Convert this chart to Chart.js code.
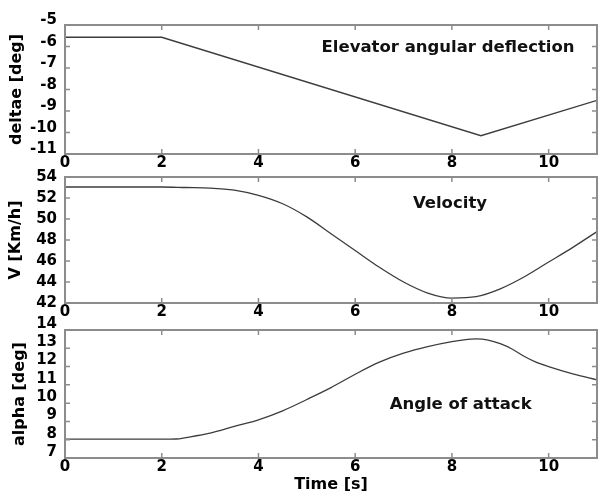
<!DOCTYPE html>
<html>
<head>
<meta charset="utf-8">
<script src="https://cdn.jsdelivr.net/npm/chart.js@4/dist/chart.umd.min.js"></script>
<style>
html,body{margin:0;padding:0;background:#fff;}
#wrap{position:relative;width:600px;height:496px;overflow:hidden;}
.pane{position:absolute;left:0;width:600px;}
</style>
</head>
<body>
<div id="wrap">
  <div class="pane" style="top:0;height:172px"><canvas id="c1"></canvas></div>
  <div class="pane" style="top:160px;height:162px"><canvas id="c2"></canvas></div>
  <div class="pane" style="top:310px;height:186px"><canvas id="c3"></canvas></div>
</div>
<script>
// values
const deltaeTime = [0, 2, 8.6, 11];
const deltaeDeg  = [-5.57, -5.57, -10.15, -8.5];

const velTime = [0, 1, 2, 2.5, 3, 3.5, 4, 4.5, 5, 5.5, 6, 6.5, 7, 7.5, 8, 8.5, 9, 9.5, 10, 10.5, 11];
const velKmh  = [53.05, 53.05, 53.05, 53.0, 52.95, 52.75, 52.25, 51.45, 50.2, 48.6, 47.0, 45.4, 44.0, 42.95, 42.47, 42.6, 43.35, 44.5, 45.9, 47.3, 48.8];

const alphaTime = [0, 1, 2, 2.3, 2.5, 3, 3.5, 4, 4.5, 5, 5.5, 6, 6.5, 7, 7.5, 8, 8.25, 8.5, 8.75, 9, 9.25, 9.5, 9.75, 10, 10.5, 11];
const alphaDeg  = [8.03, 8.03, 8.03, 8.04, 8.12, 8.36, 8.73, 9.09, 9.58, 10.2, 10.85, 11.58, 12.24, 12.73, 13.09, 13.36, 13.46, 13.51, 13.45, 13.25, 12.95, 12.55, 12.23, 12.0, 11.6, 11.27];

const timeTicks = {min: 0, max: 11, step: 2};

Chart.defaults.font.family = '"DejaVu Sans", sans-serif';
Chart.defaults.font.weight = 'bold';
Chart.defaults.font.size = 15;
Chart.defaults.color = '#000';

const pts = (xs, ys) => xs.map((x, i) => ({x, y: ys[i]}));

// box frame with inward ticks on all four sides + panel caption
const framePlugin = {
  id: 'frame',
  afterDraw(chart, args, opts){
    const {ctx, chartArea: a, scales: {x, y}} = chart;
    ctx.save();
    ctx.strokeStyle = '#8c8c8c';
    ctx.lineWidth = 2;
    ctx.strokeRect(a.left, a.top, a.right - a.left, a.bottom - a.top);
    ctx.lineWidth = 1.5;
    ctx.beginPath();
    x.ticks.forEach(t => {
      const px = x.getPixelForValue(t.value);
      ctx.moveTo(px, a.top); ctx.lineTo(px, a.top + 5);
      ctx.moveTo(px, a.bottom); ctx.lineTo(px, a.bottom - 5);
    });
    y.ticks.forEach(t => {
      const py = y.getPixelForValue(t.value);
      ctx.moveTo(a.left, py); ctx.lineTo(a.left + 5, py);
      ctx.moveTo(a.right, py); ctx.lineTo(a.right - 5, py);
    });
    ctx.stroke();
    ctx.font = 'bold 16.5px "DejaVu Sans"';
    ctx.fillStyle = '#111';
    ctx.textAlign = 'center';
    ctx.textBaseline = 'middle';
    ctx.fillText(opts.text, x.getPixelForValue(opts.at[0]), y.getPixelForValue(opts.at[1]));
    ctx.restore();
  }
};

function makePanel(id, data, cfg){
  return new Chart(document.getElementById(id), {
    type: 'line',
    data: {datasets: [{
      data,
      borderColor: '#3c3c3c',
      borderWidth: 1.3,
      pointRadius: 0,
      fill: false,
      cubicInterpolationMode: cfg.smooth ? 'monotone' : 'default',
      tension: 0
    }]},
    options: {
      responsive: true,
      maintainAspectRatio: false,
      animation: false,
      layout: {padding: {top: cfg.padTop, right: 3, left: 0, bottom: 0}},
      plugins: {legend: {display: false}, tooltip: {enabled: false}, frame: cfg.caption},
      scales: {
        x: {
          type: 'linear', min: timeTicks.min, max: timeTicks.max,
          grid: {display: false, drawTicks: false}, border: {display: false},
          ticks: {stepSize: timeTicks.step, includeBounds: false, padding: 0, maxRotation: 0, autoSkip: false},
          title: cfg.xTitle ? {display: true, text: cfg.xTitle, font: {size: 16}, padding: {top: 0, bottom: 2}} : {display: false},
          afterFit: s => { s.height = cfg.xHeight; }
        },
        y: {
          min: cfg.yMin, max: cfg.yMax,
          grid: {display: false, drawTicks: false}, border: {display: false},
          ticks: {stepSize: cfg.yStep, padding: 8, labelOffset: cfg.labelOffset, autoSkip: false},
          title: {display: true, text: cfg.yTitle, font: {size: 16}, padding: {top: cfg.yTitlePad, bottom: 0}},
          afterFit: s => { s.width = 65; }
        }
      }
    },
    plugins: [framePlugin]
  });
}

makePanel('c1', pts(deltaeTime, deltaeDeg), {
  padTop: 25, xHeight: 18, yMin: -11, yMax: -5, yStep: 1, labelOffset: -4.5,
  yTitle: 'deltae [deg]', yTitlePad: 7, smooth: false,
  caption: {text: 'Elevator angular deflection', at: [7.92, -6.07]}
});

makePanel('c2', pts(velTime, velKmh), {
  padTop: 16, xHeight: 19, yMin: 42, yMax: 54, yStep: 2, labelOffset: 0,
  yTitle: 'V [Km/h]', yTitlePad: 6, smooth: true,
  caption: {text: 'Velocity', at: [7.96, 51.43]}
});

makePanel('c3', pts(alphaTime, alphaDeg), {
  padTop: 20, xHeight: 38, yMin: 7, yMax: 14, yStep: 1, labelOffset: -6,
  yTitle: 'alpha [deg]', yTitlePad: 10, xTitle: 'Time [s]', smooth: true,
  caption: {text: 'Angle of attack', at: [8.18, 9.9]}
});
</script>
</body>
</html>
